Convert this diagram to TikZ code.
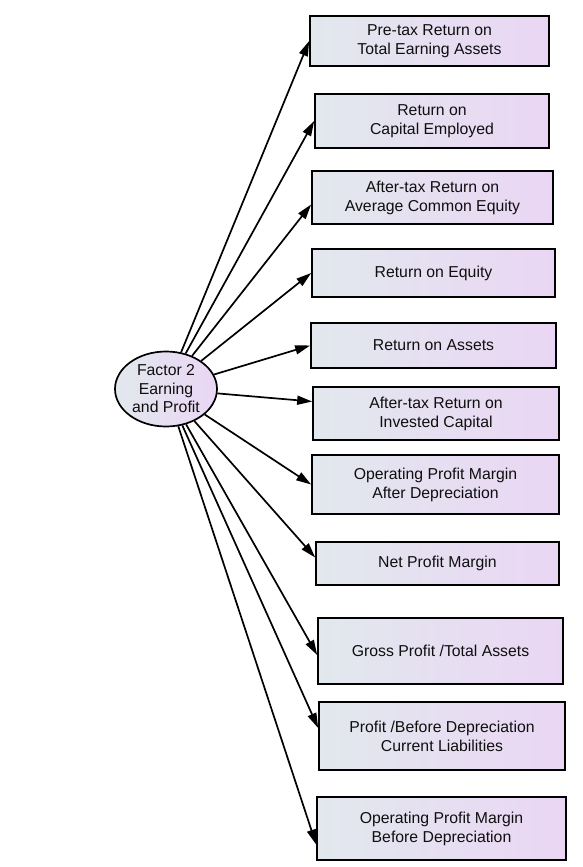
\documentclass[tikz,border=0pt]{standalone}
\usepackage{fontspec}
\setmainfont{Liberation Sans}
\usetikzlibrary{arrows.meta,shapes.geometric}
\definecolor{BoxLeft}{RGB}{226,232,238}
\definecolor{BoxRight}{RGB}{234,214,244}
\definecolor{LineColor}{RGB}{0,0,0}
\definecolor{TextColor}{RGB}{15,15,15}

\tikzset{
    itembox/.style={draw=LineColor, line width=1.7pt, left color=BoxLeft, right color=BoxRight,
        text=TextColor, align=center, inner sep=0pt, font=\fontsize{15.8}{19}\selectfont},
    factor/.style={ellipse, draw=LineColor, line width=1.7pt, shading angle=135,
        left color=BoxLeft, right color=BoxRight, text=TextColor, align=center, inner sep=0pt,
        minimum width=102pt, minimum height=75pt, font=\fontsize{15.8}{18.5}\selectfont},
    load/.style={-{Triangle[length=15pt,width=9pt]}, line width=1.7pt, draw=LineColor}
}

\begin{document}
\begin{tikzpicture}[x=1pt,y=-1pt]
    \useasboundingbox (0,0) rectangle (582,867);

    \node[factor] (f2) at (166,389) {Factor 2\\Earning\\and Profit};

    \node[itembox, minimum width=239pt, minimum height=50pt] (pretax) at (429.5,41) {Pre-tax Return on\\Total Earning Assets};
    \node[itembox, minimum width=234pt, minimum height=54pt] (roce) at (432,121) {Return on\\Capital Employed};
    \node[itembox, minimum width=241pt, minimum height=53pt] (aftaxeq) at (432.5,197.5) {After-tax Return on\\Average Common Equity};
    \node[itembox, minimum width=243pt, minimum height=48pt] (roe) at (433.5,273) {Return on Equity};
    \node[itembox, minimum width=245pt, minimum height=45pt] (roa) at (433.5,345.5) {Return on Assets};
    \node[itembox, minimum width=246pt, minimum height=53pt] (aftaxcap) at (436,413.5) {After-tax Return on\\ Invested Capital};
    \node[itembox, minimum width=247pt, minimum height=59pt] (opafter) at (435.5,484.5) {Operating Profit Margin\\After Depreciation};
    \node[itembox, minimum width=243pt, minimum height=43pt] (netmargin) at (437.5,563.5) {Net Profit Margin};
    \node[itembox, minimum width=245pt, minimum height=66pt] (gross) at (440.5,651) {Gross Profit /Total Assets};
    \node[itembox, minimum width=246pt, minimum height=68pt] (profitbd) at (442,736) {Profit /Before Depreciation\\Current Liabilities};
    \node[itembox, minimum width=249pt, minimum height=63pt] (opbefore) at (441.5,828.5) {Operating Profit Margin\\Before Depreciation};

    % loadings
    \draw[load] (f2) -- (pretax.west);
    \draw[load] (f2) -- (roce.west);
    \draw[load] (f2) -- ([yshift=-7pt]aftaxeq.west);
    \draw[load] (f2) -- (roe.west);
    \draw[load] (f2) -- (roa.west);
    \draw[load] (f2) -- ([yshift=12pt]aftaxcap.west);
    \draw[load] (f2) -- (opafter.west);
    \draw[load] (f2) -- ([yshift=6pt]netmargin.west);
    \draw[load] (f2) -- ([yshift=-4pt]gross.west);
    \draw[load] (f2) -- ([yshift=8pt]profitbd.west);
    \draw[load] (f2) -- ([yshift=-16pt]opbefore.west);
\end{tikzpicture}
\end{document}
